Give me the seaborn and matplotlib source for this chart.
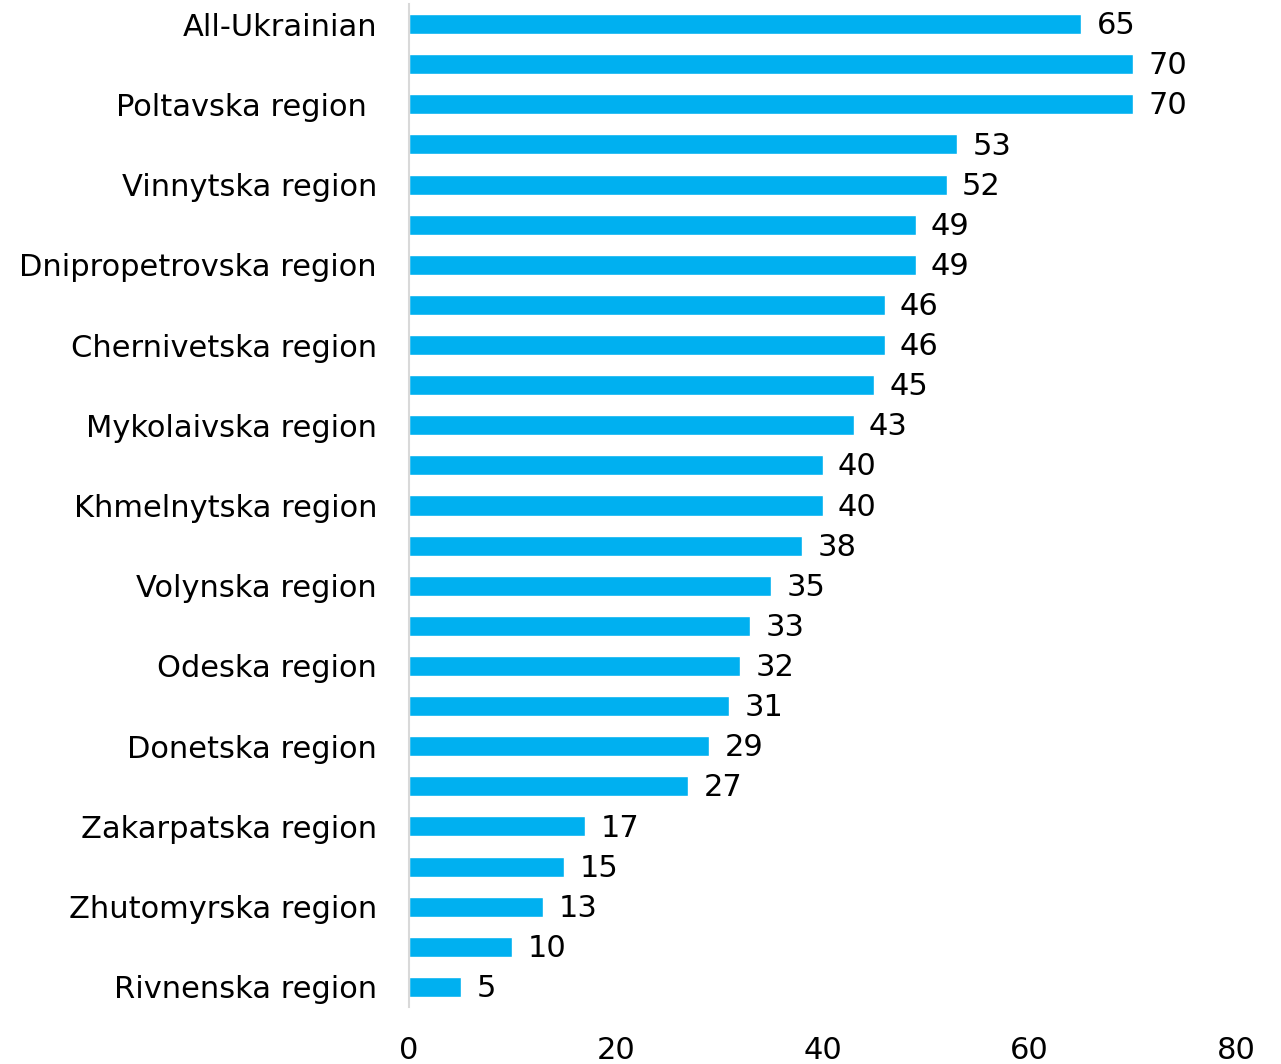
import matplotlib
matplotlib.use("Agg")
import matplotlib.pyplot as plt
import seaborn as sns
import pandas as pd

# Share by region, ordered top to bottom
values = [65, 70, 70, 53, 52, 49, 49, 46, 46, 45, 43, 40, 40,
          38, 35, 33, 32, 31, 29, 27, 17, 15, 13, 10, 5]
# Every other row carries a visible label
shown_labels = ["All-Ukrainian", "Poltavska region ", "Vinnytska region",
                "Dnipropetrovska region", "Chernivetska region",
                "Mykolaivska region", "Khmelnytska region", "Volynska region",
                "Odeska region", "Donetska region", "Zakarpatska region",
                "Zhutomyrska region", "Rivnenska region"]
x_ticks = [0, 20, 40, 60, 80]

sns.set_theme(style="white")
plt.rcParams["font.family"] = ["DejaVu Sans"]

df = pd.DataFrame({"row": list(range(len(values))), "value": values})

fig = plt.figure(figsize=(12.81, 10.64), dpi=100)
ax = fig.add_axes([409 / 1281, 1 - 1007 / 1064, (1236 - 409) / 1281, (1007 - 4) / 1064])

sns.barplot(data=df, x="value", y="row", orient="h", color="#00B0F0",
            saturation=1, width=0.5, ax=ax, errorbar=None)

for i, v in enumerate(values):
    ax.text(v + 1.5, i + 0.04, str(v), va="center", ha="left", fontsize=22, color="black")

ax.set_xlim(0, 80)
ax.set_ylim(len(values) - 0.5, -0.5)
ax.set_xticks(x_ticks)
ax.set_xticklabels([str(t) for t in x_ticks], fontsize=22, color="black")
ax.set_yticks(list(range(0, len(values), 2)))
ax.set_yticklabels(shown_labels, fontsize=22, color="black")
ax.tick_params(axis="both", length=0)
ax.tick_params(axis="y", pad=23)
ax.tick_params(axis="x", pad=21)
ax.set_xlabel("")
ax.set_ylabel("")
for s in ["top", "right", "bottom"]:
    ax.spines[s].set_visible(False)
ax.spines["left"].set_color("#D9D9D9")
ax.spines["left"].set_linewidth(1.5)

fig.savefig("out.png", dpi=100)
